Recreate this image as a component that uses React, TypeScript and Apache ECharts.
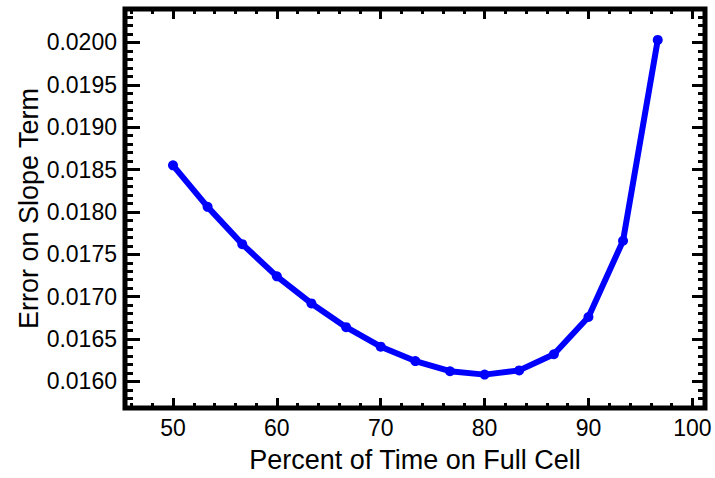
import React, { useEffect, useRef } from "react";
import * as echarts from "echarts";

const xValues = [50, 53.33, 56.67, 60, 63.33, 66.67, 70, 73.33, 76.67, 80, 83.33, 86.67, 90, 93.33, 96.67];
const yValues = [0.01855, 0.01806, 0.01762, 0.01724, 0.01692, 0.01664, 0.01641, 0.01624, 0.01612, 0.01608, 0.01613, 0.01632, 0.01676, 0.01766, 0.02003];

const xMajorTicks = [50, 60, 70, 80, 90, 100];
const xMinorTicks = [46, 48, 52, 54, 56, 58, 62, 64, 66, 68, 72, 74, 76, 78, 82, 84, 86, 88, 92, 94, 96, 98];
const yMajorTicks = [0.016, 0.0165, 0.017, 0.0175, 0.018, 0.0185, 0.019, 0.0195, 0.02];

const X_MIN = 45.38;
const X_MAX = 101.22;
const Y_MIN = 0.015686;
const Y_MAX = 0.020395;

const FONT = "'Liberation Sans', Arial, Helvetica, sans-serif";

function yMinorList(): number[] {
  const out: number[] = [];
  for (let i = 157; i <= 204; i++) {
    if (i % 5 !== 0) out.push(i / 10000);
  }
  return out;
}

function makeAxis(kind: "x" | "y", position: string, ticks: number[], len: number, labels: boolean, extra: any = {}) {
  return {
    type: "value",
    position,
    min: kind === "x" ? X_MIN : Y_MIN,
    max: kind === "x" ? X_MAX : Y_MAX,
    axisLine: { show: false },
    splitLine: { show: false },
    axisTick: {
      show: true,
      inside: true,
      length: len,
      customValues: ticks,
      lineStyle: { color: "#000", width: 3 },
    },
    axisLabel: labels
      ? {
          show: true,
          customValues: ticks,
          fontSize: 23,
          color: "#000",
          fontFamily: FONT,
          margin: 8,
          formatter: (v: number) => (kind === "x" ? String(Math.round(v)) : v.toFixed(4)),
        }
      : { show: false },
    ...extra,
  };
}

export default function App() {
  const ref = useRef<HTMLDivElement>(null);
  useEffect(() => {
    if (!ref.current) return;
    const chart = echarts.init(ref.current, null, { renderer: "svg" });
    const yMinor = yMinorList();
    chart.setOption({
      animation: false,
      backgroundColor: "#fff",
      grid: {
        left: 125,
        right: 10,
        top: 9,
        bottom: 69,
        show: true,
        borderColor: "#000",
        borderWidth: 5,
        backgroundColor: "transparent",
      },
      xAxis: [
        makeAxis("x", "bottom", xMajorTicks, 10, true, {
          name: "Percent of Time on Full Cell",
          nameLocation: "middle",
          nameGap: 38,
          nameMoveOverlap: false,
          nameTextStyle: { fontSize: 27, color: "#000", fontFamily: FONT },
        }),
        makeAxis("x", "bottom", xMinorTicks, 5, false),
        makeAxis("x", "top", xMajorTicks, 10, false),
        makeAxis("x", "top", xMinorTicks, 5, false),
      ],
      yAxis: [
        makeAxis("y", "left", yMajorTicks, 15, true, {
          name: "Error on Slope Term",
          nameLocation: "middle",
          nameGap: 83,
          nameMoveOverlap: false,
          nameTextStyle: { fontSize: 27, color: "#000", fontFamily: FONT },
        }),
        makeAxis("y", "left", yMinor, 8, false),
        makeAxis("y", "right", yMajorTicks, 13, false),
        makeAxis("y", "right", yMinor, 7, false),
      ],
      series: [
        {
          type: "line",
          xAxisIndex: 0,
          yAxisIndex: 0,
          data: xValues.map((x, i) => [x, yValues[i]]),
          symbol: "circle",
          symbolSize: 10,
          showSymbol: true,
          lineStyle: { color: "#0000ff", width: 6 },
          itemStyle: { color: "#0000ff" },
          z: 3,
        },
      ],
    });
    return () => chart.dispose();
  }, []);
  return (
    <div
      ref={ref}
      style={{ position: "fixed", left: 0, top: 0, width: 715, height: 478 }}
    />
  );
}
